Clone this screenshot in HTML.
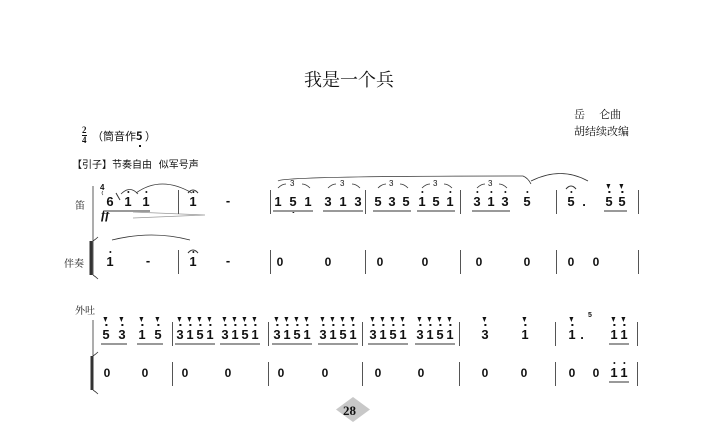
<!DOCTYPE html>
<html><head><meta charset="utf-8">
<style>
body{margin:0;background:#fff;}
#p{position:relative;width:709px;height:432px;overflow:hidden;background:#fff;font-family:"Liberation Sans","Noto Sans CJK SC",sans-serif;color:#111;}
.t{position:absolute;white-space:nowrap;}
.n{position:absolute;font:bold 13px "Liberation Sans",sans-serif;transform:translateX(-50%);line-height:14px;}
.h::before{content:"";position:absolute;left:50%;top:-4px;width:2px;height:2px;margin-left:-1px;background:#111;border-radius:1px;}
.l::after{content:"";position:absolute;left:50%;bottom:-4px;width:2px;height:2px;margin-left:-1px;background:#111;border-radius:1px;}
.s::before{content:"";position:absolute;left:50%;top:-4px;width:2px;height:2px;margin-left:-1px;background:#111;}
.s::after{content:"";position:absolute;left:50%;top:-11px;margin-left:-2.5px;border-left:2.5px solid transparent;border-right:2.5px solid transparent;border-top:5px solid #111;}
.bar{position:absolute;width:1px;background:#555;}
.u{position:absolute;height:2px;background:#999;}
.z{position:absolute;font:bold 12px "Liberation Sans",sans-serif;transform:translateX(-50%);}
</style></head><body><div id="p">
<div class="t" style="left:304px;top:66px;font:18px 'Liberation Serif','Noto Serif CJK SC',serif;">我是一个兵</div>
<div class="t" style="left:574px;top:106px;font:11px 'Noto Serif CJK SC',serif;">岳&nbsp;&nbsp;&nbsp;&nbsp;&nbsp;仑曲</div>
<div class="t" style="left:574px;top:123px;font:11px 'Noto Serif CJK SC',serif;">胡结续改编</div>
<div class="t" style="left:82px;top:126px;font:bold 9px 'Liberation Serif',serif;line-height:9px;text-align:center;">2<br><span style="display:block;border-top:1px solid #111;">4</span></div>
<div class="t" style="left:92px;top:128px;font:11px 'Noto Sans CJK SC',sans-serif;">（筒音作<b style="position:relative;">5<span style="position:absolute;left:3px;bottom:-3px;width:2px;height:2px;background:#111;"></span></b> ）</div>
<div class="t" style="left:72px;top:156px;font:10px 'Noto Sans CJK SC',sans-serif;">【引子】节奏自由&nbsp;&nbsp;&nbsp;似军号声</div>
<div class="t" style="left:75px;top:197px;font:10px 'Noto Serif CJK SC',serif;">笛</div>
<div class="t" style="left:64px;top:255px;font:10px 'Noto Serif CJK SC',serif;">伴奏</div>
<div class="t" style="left:75px;top:302px;font:10px 'Noto Serif CJK SC',serif;">外吐</div>
<div class="t" style="left:100px;top:183px;font:bold 8px 'Liberation Sans',sans-serif;">4</div>
<div class="t" style="left:101px;top:207px;font:italic bold 13px 'Liberation Serif',serif;">ff</div>
<div class="t" style="left:588px;top:312px;font:bold 7px 'Liberation Sans',sans-serif;">5</div>
<div class="t" style="left:336px;top:397px;width:34px;height:25px;"><svg width="34" height="25"><polygon points="0,12.5 17,0 34,12.5 17,25" fill="#c8c8c8"/></svg></div>
<div class="t" style="left:343px;top:403px;font:bold 13px 'Liberation Serif',serif;">28</div>
<svg class="t" style="left:0;top:0;" width="709" height="432" fill="none" stroke="#333" stroke-width="0.8">
<path d="M93 186 V275 M93 320 V386"/>
<path d="M91 241 V275 M92 356 V390" stroke-width="3"/>
<path d="M93 241 q3 -2 5 -4 M93 275 q3 2 5 4 M93 356 q3 -2 5 -4 M93 390 q3 2 5 4"/>
<path d="M121 194 q9 -9 17 0 M136 193 q25 -18 56 0 M112 240 q40 -10 78 0 M278 181 q5 -5 245 -5 q5 2 8 8 M531 181 q30 -15 57 0"/>
<path d="M133 212 L205 215 L133 218" stroke="#999"/>
<path d="M116 193 l4 7" stroke-width="1"/>
<path d="M103 191 q-2 2 0 4" stroke-width="0.6"/>
<path d="M188 193 q5 -6 10 0 M188 253 q5 -6 10 0 M566 189 q5 -6 10 0" stroke-width="1"/>
<path d="M278 188 q4 -4 8 -4 M302 184 q4 0 8 4 M328 188 q4 -4 8 -4 M352 184 q4 0 8 4 M378 188 q4 -4 8 -4 M400 184 q4 0 8 4 M422 188 q4 -4 8 -4 M444 184 q4 0 8 4 M477 188 q4 -4 8 -4 M499 184 q4 0 8 4"/>
</svg>
<div class="t" style="left:290px;top:179px;font:8px 'Liberation Sans';">3</div>
<div class="t" style="left:340px;top:179px;font:8px 'Liberation Sans';">3</div>
<div class="t" style="left:389px;top:179px;font:8px 'Liberation Sans';">3</div>
<div class="t" style="left:433px;top:179px;font:8px 'Liberation Sans';">3</div>
<div class="t" style="left:488px;top:179px;font:8px 'Liberation Sans';">3</div>
<!-- row1 top bars -->
<div class="bar" style="left:178px;top:190px;height:24px;"></div>
<div class="bar" style="left:270px;top:190px;height:24px;"></div>
<div class="bar" style="left:365px;top:190px;height:24px;"></div>
<div class="bar" style="left:460px;top:190px;height:24px;"></div>
<div class="bar" style="left:556px;top:190px;height:24px;"></div>
<div class="bar" style="left:638px;top:190px;height:24px;"></div>
<div class="bar" style="left:178px;top:250px;height:24px;"></div>
<div class="bar" style="left:270px;top:250px;height:24px;"></div>
<div class="bar" style="left:365px;top:250px;height:24px;"></div>
<div class="bar" style="left:460px;top:250px;height:24px;"></div>
<div class="bar" style="left:556px;top:250px;height:24px;"></div>
<div class="bar" style="left:638px;top:250px;height:24px;"></div>
<!-- row1 notes -->
<div class="n" style="left:110px;top:195px;">6</div>
<div class="u" style="left:104px;top:210px;width:46px;"></div>
<div class="n h" style="left:128px;top:195px;">1</div>
<div class="n h" style="left:146px;top:195px;">1</div>
<div class="n h" style="left:193px;top:195px;">1</div>
<div class="n" style="left:228px;top:194px;">-</div>
<div class="n" style="left:278px;top:195px;">1</div><div class="n l" style="left:293px;top:195px;">5</div><div class="n" style="left:308px;top:195px;">1</div>
<div class="n" style="left:328px;top:195px;">3</div><div class="n" style="left:343px;top:195px;">1</div><div class="n" style="left:358px;top:195px;">3</div>
<div class="u" style="left:273px;top:210px;width:40px;"></div><div class="u" style="left:323px;top:210px;width:40px;"></div>
<div class="n" style="left:378px;top:195px;">5</div><div class="n" style="left:392px;top:195px;">3</div><div class="n" style="left:406px;top:195px;">5</div>
<div class="n h" style="left:422px;top:195px;">1</div><div class="n" style="left:436px;top:195px;">5</div><div class="n h" style="left:450px;top:195px;">1</div>
<div class="u" style="left:373px;top:210px;width:38px;"></div><div class="u" style="left:417px;top:210px;width:38px;"></div>
<div class="n h" style="left:477px;top:195px;">3</div><div class="n h" style="left:491px;top:195px;">1</div><div class="n h" style="left:505px;top:195px;">3</div>
<div class="u" style="left:472px;top:210px;width:38px;"></div>
<div class="n h" style="left:527px;top:195px;">5</div>
<div class="n h" style="left:571px;top:195px;">5</div><div class="n" style="left:584px;top:195px;">.</div>
<div class="n s" style="left:609px;top:195px;">5</div><div class="n s" style="left:622px;top:195px;">5</div>
<div class="u" style="left:604px;top:210px;width:23px;"></div>
<!-- row1 bottom -->
<div class="n h" style="left:110px;top:255px;">1</div>
<div class="n" style="left:148px;top:254px;">-</div>
<div class="n h" style="left:193px;top:255px;">1</div>
<div class="n" style="left:228px;top:254px;">-</div>
<div class="z" style="left:280px;top:255px;">0</div><div class="z" style="left:328px;top:255px;">0</div>
<div class="z" style="left:380px;top:255px;">0</div><div class="z" style="left:425px;top:255px;">0</div>
<div class="z" style="left:479px;top:255px;">0</div><div class="z" style="left:527px;top:255px;">0</div>
<div class="z" style="left:571px;top:255px;">0</div><div class="z" style="left:596px;top:255px;">0</div>
<!-- row2 bars -->
<div class="bar" style="left:172px;top:322px;height:24px;"></div>
<div class="bar" style="left:268px;top:322px;height:24px;"></div>
<div class="bar" style="left:362px;top:322px;height:24px;"></div>
<div class="bar" style="left:459px;top:322px;height:24px;"></div>
<div class="bar" style="left:555px;top:322px;height:24px;"></div>
<div class="bar" style="left:637px;top:322px;height:24px;"></div>
<div class="bar" style="left:172px;top:362px;height:24px;"></div>
<div class="bar" style="left:268px;top:362px;height:24px;"></div>
<div class="bar" style="left:362px;top:362px;height:24px;"></div>
<div class="bar" style="left:459px;top:362px;height:24px;"></div>
<div class="bar" style="left:555px;top:362px;height:24px;"></div>
<div class="bar" style="left:637px;top:362px;height:24px;"></div>
<!-- row2 notes -->
<div class="n s" style="left:106px;top:328px;">5</div><div class="n s" style="left:122px;top:328px;">3</div>
<div class="n s" style="left:142px;top:328px;">1</div><div class="n s" style="left:158px;top:328px;">5</div>
<div class="u" style="left:101px;top:343px;width:26px;"></div><div class="u" style="left:137px;top:343px;width:26px;"></div>
<div class="n s" style="left:180px;top:328px;">3</div><div class="n s" style="left:190px;top:328px;">1</div><div class="n s" style="left:200px;top:328px;">5</div><div class="n s" style="left:210px;top:328px;">1</div>
<div class="n s" style="left:225px;top:328px;">3</div><div class="n s" style="left:235px;top:328px;">1</div><div class="n s" style="left:245px;top:328px;">5</div><div class="n s" style="left:255px;top:328px;">1</div>
<div class="u" style="left:175px;top:343px;width:40px;"></div><div class="u" style="left:220px;top:343px;width:40px;"></div>
<div class="n s" style="left:277px;top:328px;">3</div><div class="n s" style="left:287px;top:328px;">1</div><div class="n s" style="left:297px;top:328px;">5</div><div class="n s" style="left:307px;top:328px;">1</div>
<div class="n s" style="left:323px;top:328px;">3</div><div class="n s" style="left:333px;top:328px;">1</div><div class="n s" style="left:343px;top:328px;">5</div><div class="n s" style="left:353px;top:328px;">1</div>
<div class="u" style="left:272px;top:343px;width:40px;"></div><div class="u" style="left:318px;top:343px;width:40px;"></div>
<div class="n s" style="left:373px;top:328px;">3</div><div class="n s" style="left:383px;top:328px;">1</div><div class="n s" style="left:393px;top:328px;">5</div><div class="n s" style="left:403px;top:328px;">1</div>
<div class="n s" style="left:420px;top:328px;">3</div><div class="n s" style="left:430px;top:328px;">1</div><div class="n s" style="left:440px;top:328px;">5</div><div class="n s" style="left:450px;top:328px;">1</div>
<div class="u" style="left:368px;top:343px;width:40px;"></div><div class="u" style="left:415px;top:343px;width:40px;"></div>
<div class="n s" style="left:485px;top:328px;">3</div><div class="n s" style="left:525px;top:328px;">1</div>
<div class="n s" style="left:572px;top:328px;">1</div><div class="n" style="left:582px;top:328px;">.</div>
<div class="n s" style="left:614px;top:328px;">1</div><div class="n s" style="left:624px;top:328px;">1</div>
<div class="u" style="left:609px;top:343px;width:20px;"></div>
<!-- row2 bottom -->
<div class="z" style="left:107px;top:366px;">0</div><div class="z" style="left:145px;top:366px;">0</div>
<div class="z" style="left:185px;top:366px;">0</div><div class="z" style="left:228px;top:366px;">0</div>
<div class="z" style="left:281px;top:366px;">0</div><div class="z" style="left:325px;top:366px;">0</div>
<div class="z" style="left:378px;top:366px;">0</div><div class="z" style="left:421px;top:366px;">0</div>
<div class="z" style="left:485px;top:366px;">0</div><div class="z" style="left:524px;top:366px;">0</div>
<div class="z" style="left:572px;top:366px;">0</div><div class="z" style="left:596px;top:366px;">0</div>
<div class="n h" style="left:614px;top:366px;">1</div><div class="n h" style="left:624px;top:366px;">1</div>
<div class="u" style="left:609px;top:381px;width:20px;"></div>
</div></body></html>
